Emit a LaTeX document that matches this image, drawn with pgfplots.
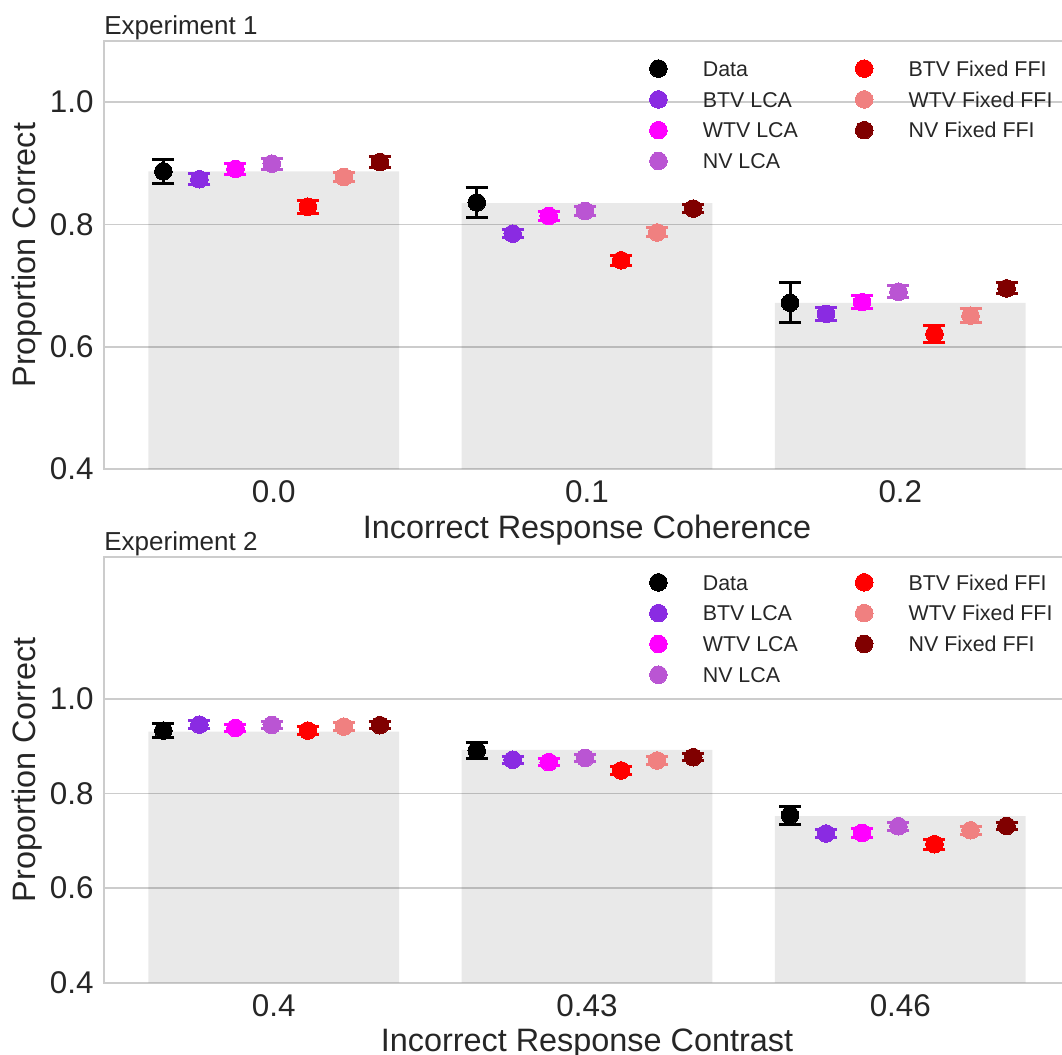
\documentclass[border=0pt]{standalone}
\usepackage{fontspec}
\setmainfont{Liberation Sans}
\usepackage{pgfplots}
\pgfplotsset{compat=1.18}

\definecolor{txt}{HTML}{262626}
\definecolor{gridc}{HTML}{CCCCCC}
\definecolor{cData}{HTML}{000000}
\definecolor{cBTVL}{HTML}{8A2BE2}
\definecolor{cWTVL}{HTML}{FF00FF}
\definecolor{cNVL}{HTML}{BA55D3}
\definecolor{cBTVF}{HTML}{FF0000}
\definecolor{cWTVF}{HTML}{F08080}
\definecolor{cNVF}{HTML}{800000}

\pgfplotsset{legend image code/.code={\path (-4.5pt,0pt) -- (4.5pt,0pt); \draw[#1] plot coordinates {(0pt,0pt)};}}

\pgfplotsset{
 panel/.style={
  scale only axis, width=483pt,
  xmin=-0.5415, xmax=2.5415, ymin=0.4,
  axis line style={gridc, line width=0.8pt},
  major tick length=0pt,
  ymajorgrids, grid style={gridc, line width=0.8pt},
  xtick={0,1,2}, ytick={0.4,0.6,0.8,1.0}, yticklabels={0.4,0.6,0.8,1.0},
  tick label style={font=\fontsize{15.7}{17}\selectfont, text=txt},
  yticklabel style={anchor=east, xshift=-5pt, inner sep=0pt},
  xticklabel style={anchor=base, yshift=-16.9pt, inner sep=0pt},
  label style={font=\fontsize{16.2}{19}\selectfont, text=txt},
  xlabel style={at={(axis description cs:0.5,0)}, anchor=base, yshift=-34.5pt, inner sep=0pt},
  ylabel style={at={(axis description cs:-0.0714,0.5)}, anchor=base, inner sep=0pt},
  title style={at={(axis description cs:0,1)}, anchor=base west, yshift=-2.7pt, inner sep=0pt, font=\fontsize{13}{15}\selectfont, text=txt},
  legend style={draw=none, fill=none, inner sep=0pt, outer sep=0pt, anchor=north west, legend columns=2, font=\fontsize{10.7}{13}\selectfont, text=txt, row sep=6.6pt, nodes={inner sep=0pt, text height=7.7pt, text depth=0pt}, /tikz/every odd column/.append style={column sep=17.5pt}, /tikz/every even column/.append style={column sep=0pt}},
  legend cell align=left,
 },
 pt/.style={only marks, mark=*, mark size=4.4pt, color=#1, mark options={solid, fill=#1, draw=#1, line width=0pt}, error bars/.cd, y dir=both, y explicit, error bar style={line width=1.5pt, color=#1}, error mark options={rotate=90, line width=1.5pt, mark size=5.5pt, color=#1}},
 barst/.style={ybar, bar width=0.8, bar shift=0pt, fill=black, fill opacity=0.085, draw=none, forget plot},
}

\begin{document}
\begin{tikzpicture}
% ---------------- Experiment 1 ----------------
\begin{axis}[panel, at={(52pt,-20.5pt)}, anchor=north west, height=214.1pt, ymax=1.1,
  xticklabels={0.0,0.1,0.2},
  xlabel={Incorrect Response Coherence}, ylabel={Proportion Correct},
  title={Experiment 1},
  legend style={at={(0.5642,0.9561)}}]
\addplot[barst] coordinates {(0,0.887) (1,0.835) (2,0.672)};
\addplot[pt=cData] coordinates {(-0.352,0.887) +- (0,0.020) (0.648,0.836) +- (0,0.024) (1.648,0.672) +- (0,0.033)};
\addlegendentry{\makebox[76pt][l]{Data}}
\addplot[pt=cBTVF] coordinates {(0.109,0.829) +- (0,0.011) (1.109,0.7415) +- (0,0.008) (2.109,0.621) +- (0,0.0145)};
\addlegendentry{BTV Fixed FFI}
\addplot[pt=cBTVL] coordinates {(-0.237,0.874) +- (0,0.009) (0.763,0.785) +- (0,0.007) (1.763,0.654) +- (0,0.011)};
\addlegendentry{\makebox[76pt][l]{BTV LCA}}
\addplot[pt=cWTVF] coordinates {(0.224,0.8776) +- (0,0.008) (1.224,0.787) +- (0,0.0074) (2.224,0.651) +- (0,0.012)};
\addlegendentry{WTV Fixed FFI}
\addplot[pt=cWTVL] coordinates {(-0.122,0.891) +- (0,0.009) (0.878,0.814) +- (0,0.008) (1.878,0.673) +- (0,0.0107)};
\addlegendentry{\makebox[76pt][l]{WTV LCA}}
\addplot[pt=cNVF] coordinates {(0.339,0.902) +- (0,0.009) (1.339,0.826) +- (0,0.007) (2.339,0.6956) +- (0,0.009)};
\addlegendentry{NV Fixed FFI}
\addplot[pt=cNVL] coordinates {(-0.006,0.8995) +- (0,0.009) (0.994,0.822) +- (0,0.008) (1.994,0.690) +- (0,0.010)};
\addlegendentry{\makebox[76pt][l]{NV LCA}}
\end{axis}
% ---------------- Experiment 2 ----------------
\begin{axis}[panel, at={(52pt,-278.35pt)}, anchor=north west, height=213pt, ymax=1.3,
  xticklabels={0.4,0.43,0.46},
  xlabel={Incorrect Response Contrast}, ylabel={Proportion Correct},
  title={Experiment 2},
  legend style={at={(0.5642,0.9605)}}]
\addplot[barst] coordinates {(0,0.9305) (1,0.892) (2,0.752)};
\addplot[pt=cData] coordinates {(-0.352,0.9326) +- (0,0.014) (0.648,0.8905) +- (0,0.0165) (1.648,0.7537) +- (0,0.0196)};
\addlegendentry{\makebox[76pt][l]{Data}}
\addplot[pt=cBTVF] coordinates {(0.109,0.9326) +- (0,0.009) (1.109,0.8484) +- (0,0.008) (2.109,0.6926) +- (0,0.0105)};
\addlegendentry{BTV Fixed FFI}
\addplot[pt=cBTVL] coordinates {(-0.237,0.9453) +- (0,0.008) (0.763,0.871) +- (0,0.007) (1.763,0.7151) +- (0,0.009)};
\addlegendentry{\makebox[76pt][l]{BTV LCA}}
\addplot[pt=cWTVF] coordinates {(0.224,0.941) +- (0,0.008) (1.224,0.8695) +- (0,0.008) (2.224,0.722) +- (0,0.008)};
\addlegendentry{WTV Fixed FFI}
\addplot[pt=cWTVL] coordinates {(-0.122,0.9383) +- (0,0.008) (0.878,0.866) +- (0,0.008) (1.878,0.7164) +- (0,0.009)};
\addlegendentry{\makebox[76pt][l]{WTV LCA}}
\addplot[pt=cNVF] coordinates {(0.339,0.944) +- (0,0.008) (1.339,0.8764) +- (0,0.007) (2.339,0.7312) +- (0,0.008)};
\addlegendentry{NV Fixed FFI}
\addplot[pt=cNVL] coordinates {(-0.006,0.9446) +- (0,0.008) (0.994,0.875) +- (0,0.007) (1.994,0.7305) +- (0,0.008)};
\addlegendentry{\makebox[76pt][l]{NV LCA}}
\end{axis}
\pgfresetboundingbox
\useasboundingbox (0,0) rectangle (531pt,-527.5pt);
\end{tikzpicture}
\end{document}
